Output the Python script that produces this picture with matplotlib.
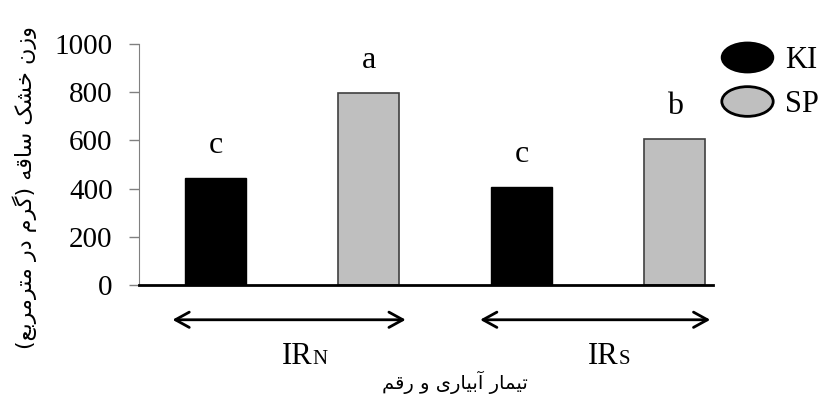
import matplotlib
matplotlib.use("Agg")
import matplotlib.pyplot as plt
from matplotlib.path import Path
from matplotlib.lines import Line2D
from matplotlib.transforms import Affine2D
import numpy as np

# data
groups = ["IR", "IR"]
group_subs = ["N", "S"]
cultivars = ["KI", "SP"]
ki_values = [445, 405]
sp_values = [795, 605]
ki_letters = ["c", "c"]
sp_letters = ["a", "b"]
yticks = [0, 200, 400, 600, 800, 1000]

ylabel_fa = "وزن خشک ساقه (گرم در مترمربع)"
xlabel_fa = "تیمار آبیاری و رقم"

# matplotlib has no arabic shaping, so pick presentation forms by hand
# (isolated, final, initial, medial)
FORMS = {
    "ا": ("\uFE8D", "\uFE8E", None, None),
    "آ": ("\uFE81", "\uFE82", None, None),
    "د": ("\uFEA9", "\uFEAA", None, None),
    "ر": ("\uFEAD", "\uFEAE", None, None),
    "ز": ("\uFEAF", "\uFEB0", None, None),
    "و": ("\uFEED", "\uFEEE", None, None),
    "ب": ("\uFE8F", "\uFE90", "\uFE91", "\uFE92"),
    "ت": ("\uFE95", "\uFE96", "\uFE97", "\uFE98"),
    "خ": ("\uFEA5", "\uFEA6", "\uFEA7", "\uFEA8"),
    "س": ("\uFEB1", "\uFEB2", "\uFEB3", "\uFEB4"),
    "ش": ("\uFEB5", "\uFEB6", "\uFEB7", "\uFEB8"),
    "ع": ("\uFEC9", "\uFECA", "\uFECB", "\uFECC"),
    "ق": ("\uFED5", "\uFED6", "\uFED7", "\uFED8"),
    "م": ("\uFEE1", "\uFEE2", "\uFEE3", "\uFEE4"),
    "ن": ("\uFEE5", "\uFEE6", "\uFEE7", "\uFEE8"),
    "ه": ("\uFEE9", "\uFEEA", "\uFEEB", "\uFEEC"),
    "ی": ("\uFBFC", "\uFBFD", "\uFBFE", "\uFBFF"),
    "ک": ("\uFB8E", "\uFB8F", "\uFB90", "\uFB91"),
    "گ": ("\uFB92", "\uFB93", "\uFB94", "\uFB95"),
}

def shape(s):
    out = []
    for i, ch in enumerate(s):
        if ch not in FORMS:
            out.append(ch)
            continue
        prev = s[i - 1] if i > 0 else ""
        nxt = s[i + 1] if i + 1 < len(s) else ""
        join_prev = prev in FORMS and FORMS[prev][2] is not None
        join_next = FORMS[ch][2] is not None and nxt in FORMS
        iso, fin, ini, med = FORMS[ch]
        if join_prev and join_next:
            out.append(med)
        elif join_prev:
            out.append(fin)
        elif join_next:
            out.append(ini)
        else:
            out.append(iso)
    vis = "".join(reversed(out))
    return vis.translate(str.maketrans("()", ")("))

plt.rcParams["font.family"] = ["Liberation Serif", "DejaVu Sans"]

fig = plt.figure(figsize=(8.33, 3.94), dpi=100)
ax = fig.add_axes([0.167, 0.277, 0.689, 0.611])

centers = np.arange(len(groups)) * 2 + 0.5
width = 0.4
ki_x = centers - 0.5
sp_x = centers + 0.5
ax.bar(ki_x, ki_values, width, color="black", edgecolor="black", zorder=2)
ax.bar(sp_x, sp_values, width, color="#bfbfbf", edgecolor="#404040", linewidth=1.2, zorder=2)

for x, v, t in zip(ki_x, ki_values, ki_letters):
    ax.text(x, v + 135, t, ha="center", va="center", fontsize=23)
for x, v, t in zip(sp_x, sp_values, sp_letters):
    ax.text(x, v + 135, t, ha="center", va="center", fontsize=23)

ax.set_xlim(-0.5, 3.25)
ax.set_ylim(0, 1000)
ax.set_yticks(yticks)
ax.tick_params(axis="y", labelsize=21, length=7, width=1, color="#808080", direction="out", pad=12)
ax.set_xticks([])
for s in ["top", "right"]:
    ax.spines[s].set_visible(False)
ax.spines["left"].set_color("#808080")
ax.spines["bottom"].set_linewidth(2)
ax.spines["bottom"].set_zorder(3)

# double arrows under each irrigation group
arrow_ends = [(-0.3, 1.26), (1.71, 3.25)]
for (x0, x1), c, g, sub in zip(arrow_ends, centers, groups, group_subs):
    ax.annotate("", xy=(x0, -0.145), xytext=(x1, -0.145),
                xycoords=("data", "axes fraction"), textcoords=("data", "axes fraction"),
                arrowprops=dict(arrowstyle="<->,head_length=1.0,head_width=0.55", lw=2, color="black"),
                annotation_clip=False)
    ax.text(c + 0.13, -0.33, g, ha="right", va="baseline", fontsize=22,
            transform=ax.get_xaxis_transform())
    ax.text(c + 0.13, -0.33, sub, ha="left", va="baseline", fontsize=15,
            transform=ax.get_xaxis_transform())

fig.text(0.546, 0.03, shape(xlabel_fa), ha="center", va="center", fontsize=14, family=["DejaVu Sans"])
fig.text(0.03, 0.523, shape(ylabel_fa), ha="center", va="center", rotation=90, fontsize=16,
         family=["DejaVu Sans"])

# legend with oval markers
ellipse = Path.unit_circle().transformed(Affine2D().scale(1.73, 1.0))
handles = [
    Line2D([], [], ls="none", marker=ellipse, markersize=37, markerfacecolor="black",
           markeredgecolor="black", markeredgewidth=1.5),
    Line2D([], [], ls="none", marker=ellipse, markersize=37, markerfacecolor="#bfbfbf",
           markeredgecolor="black", markeredgewidth=2),
]
fig.legend(handles, cultivars, loc="upper left", bbox_to_anchor=(0.836, 0.93), frameon=False,
           fontsize=22, handlelength=2.1, handletextpad=0.2, labelspacing=0.5,
           borderaxespad=0.2)

fig.savefig("out.png", dpi=100)
